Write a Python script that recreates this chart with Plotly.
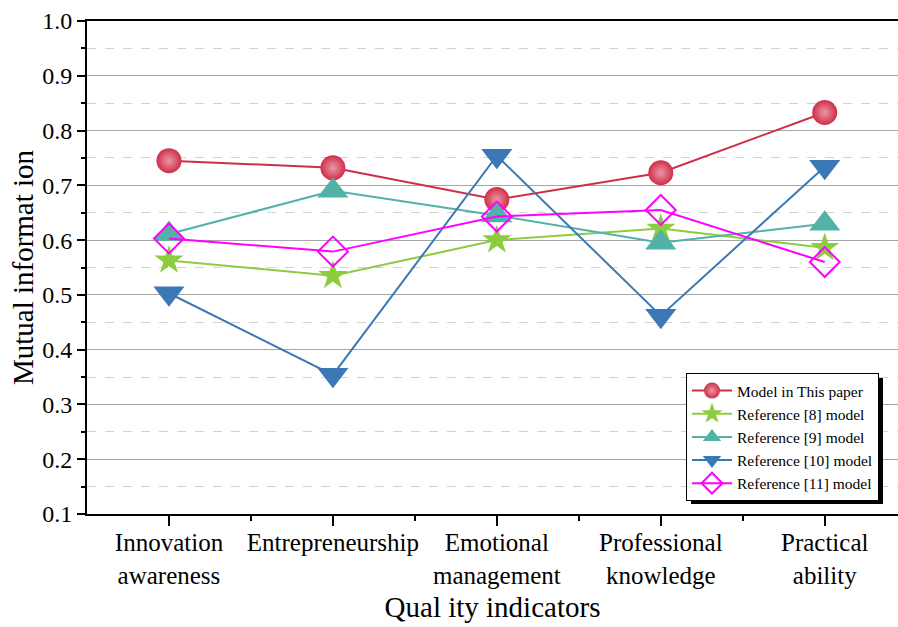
import plotly.graph_objects as go

# Quality indicators along the x axis
categories = [
    "Innovation<br>awareness",
    "Entrepreneurship",
    "Emotional<br>management",
    "Professional<br>knowledge",
    "Practical<br>ability",
]

# Mutual information values per model
model_this_paper = [0.745, 0.732, 0.674, 0.723, 0.833]
ref8_model = [0.563, 0.535, 0.600, 0.621, 0.586]
ref9_model = [0.611, 0.690, 0.645, 0.595, 0.630]
ref10_model = [0.503, 0.354, 0.754, 0.462, 0.734]
ref11_model = [0.603, 0.579, 0.643, 0.655, 0.560]

y_ticks = [0.1, 0.2, 0.3, 0.4, 0.5, 0.6, 0.7, 0.8, 0.9, 1.0]

x_idx = list(range(len(categories)))

FONT = "Liberation Serif, Times New Roman, serif"

series = [
    dict(name="Model in This paper", y=model_this_paper, color="#cf2e48",
         symbol="circle", size=25, fill="#cf2e48", grad="#eb98a6"),
    dict(name="Reference [8] model", y=ref8_model, color="#8dcb3f",
         symbol="star", size=22, fill="#8dcb3f", grad=None),
    dict(name="Reference [9] model", y=ref9_model, color="#52b2a8",
         symbol="triangle-up", size=27, fill="#52b2a8", grad=None),
    dict(name="Reference [10] model", y=ref10_model, color="#3a79b5",
         symbol="triangle-down", size=27, fill="#3a79b5", grad=None),
    dict(name="Reference [11] model", y=ref11_model, color="#ff00ff",
         symbol="diamond-open", size=23, fill="#ff00ff", grad=None),
]

fig = go.Figure()
for s in series:
    marker = dict(symbol=s["symbol"], size=s["size"], color=s["fill"],
                  line=dict(width=2 if "open" in s["symbol"] else 0, color=s["color"]))
    if s["grad"]:
        marker["gradient"] = dict(type="radial", color=s["grad"])
    fig.add_trace(go.Scatter(
        x=x_idx, y=s["y"], name=s["name"], mode="lines+markers",
        line=dict(color=s["color"], width=2),
        marker=marker,
    ))

W, H = 898, 627
ML, MR, MT, MB = 87, 0, 21, 113
pw = W - ML - MR
ph = H - MT - MB

# legend box placement (pixels) and its drop shadow
leg_left, leg_top = 686, 373
leg_w, leg_h = 192, 126
shadow = 5


def px_x(px):
    return (px - ML) / pw


def px_y(py):
    return (H - MB - py) / ph


fig.add_shape(type="rect", xref="paper", yref="paper",
              x0=px_x(leg_left + shadow), x1=px_x(leg_left + leg_w + shadow),
              y0=px_y(leg_top + leg_h + shadow), y1=px_y(leg_top + shadow),
              fillcolor="black", line=dict(width=0), layer="above")

fig.update_layout(
    width=W, height=H,
    margin=dict(l=ML, r=MR, t=MT, b=MB),
    paper_bgcolor="white", plot_bgcolor="white",
    font=dict(family=FONT, color="black"),
    showlegend=True,
    legend=dict(
        x=px_x(leg_left), y=px_y(leg_top), xanchor="left", yanchor="top",
        bgcolor="white", bordercolor="black", borderwidth=1,
        font=dict(family=FONT, size=15.5, color="black"),
        itemwidth=40, tracegroupgap=0,
    ),
    xaxis=dict(
        range=[-0.5, 4.447],
        tickmode="array", tickvals=x_idx, ticktext=categories,
        tickfont=dict(family=FONT, size=25),
        ticklabelstandoff=-5,
        showgrid=False, zeroline=False,
        showline=True, linecolor="black", linewidth=2, mirror=True,
        ticks="outside", ticklen=10, tickwidth=2, tickcolor="black",
        minor=dict(tickmode="array", tickvals=[0.5, 1.5, 2.5, 3.5],
                   ticks="outside", ticklen=5, tickwidth=2, tickcolor="black",
                   showgrid=False),
        title=dict(text="Qual ity indicators", font=dict(family=FONT, size=29),
                   standoff=9),
    ),
    yaxis=dict(
        range=[0.1, 1.0],
        tickmode="array", tickvals=y_ticks,
        ticktext=[f"{v:.1f}" for v in y_ticks],
        tickfont=dict(family=FONT, size=24),
        showgrid=True, gridcolor="#a6a6a6", gridwidth=1,
        zeroline=False,
        showline=True, linecolor="black", linewidth=2,
        ticks="outside", ticklen=8, tickwidth=2, tickcolor="black",
        minor=dict(tickmode="array",
                   tickvals=[0.15, 0.25, 0.35, 0.45, 0.55, 0.65, 0.75, 0.85, 0.95],
                   ticks="outside", ticklen=4, tickwidth=2, tickcolor="black",
                   showgrid=True, gridcolor="#d2d2d2", gridwidth=1, griddash="dash"),
        title=dict(text="Mutual informat ion", font=dict(family=FONT, size=29),
                   standoff=0),
    ),
)

fig.write_html("out.html")
